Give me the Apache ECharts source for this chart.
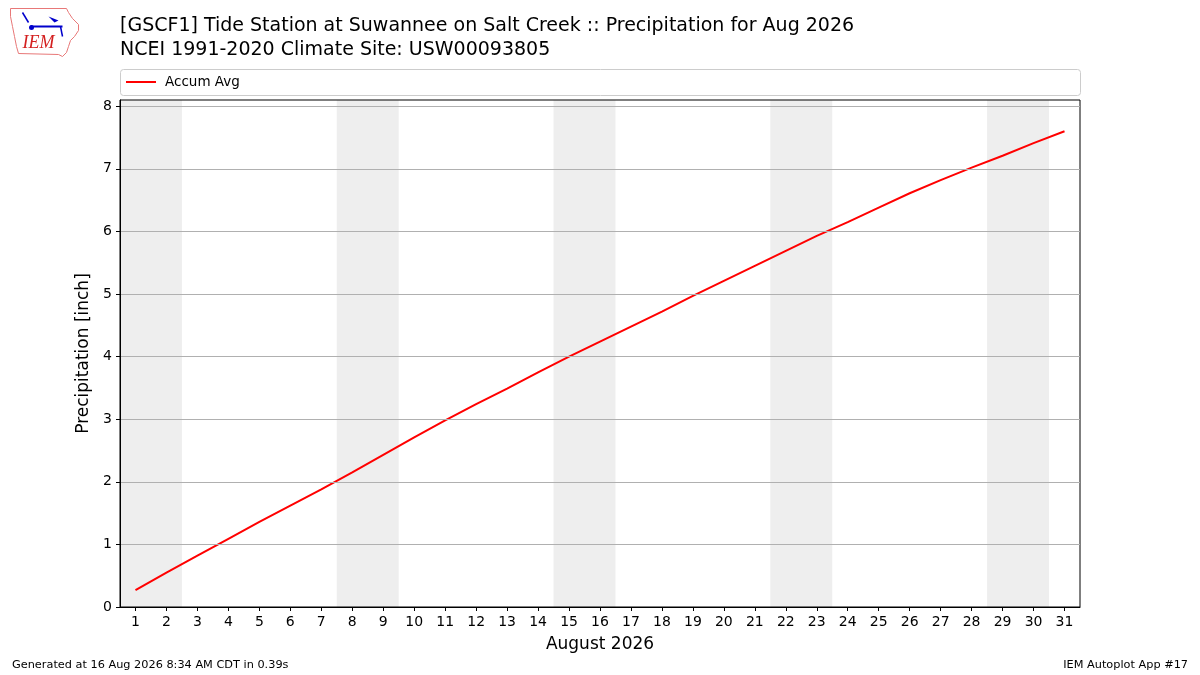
<!DOCTYPE html>
<html>
<head>
<meta charset="utf-8">
<script src="https://cdn.jsdelivr.net/npm/echarts@6/dist/echarts.min.js"></script>
<style>html,body{margin:0;padding:0;background:#fff}#c{width:1200px;height:675px}</style>
</head>
<body>
<div id="c"></div>
<script>
const days = [1,2,3,4,5,6,7,8,9,10,11,12,13,14,15,16,17,18,19,20,21,22,23,24,25,26,27,28,29,30,31];
const accumAvg = [0.27,0.55,0.82,1.09,1.36,1.62,1.88,2.15,2.43,2.71,2.98,3.24,3.49,3.75,4.00,4.24,4.48,4.72,4.97,5.21,5.45,5.69,5.93,6.15,6.38,6.61,6.82,7.02,7.21,7.41,7.60];
const weekends = [[1,2],[8,9],[15,16],[22,23],[29,30]];
const yTicks = [0,1,2,3,4,5,6,7,8];
const titleLine1 = '[GSCF1] Tide Station at Suwannee on Salt Creek :: Precipitation for Aug 2026';
const titleLine2 = 'NCEI 1991-2020 Climate Site: USW00093805';
const footerLeft = 'Generated at 16 Aug 2026 8:34 AM CDT in 0.39s';
const footerRight = 'IEM Autoplot App #17';

const F = 'DejaVu Sans';
const chart = echarts.init(document.getElementById('c'), null, {renderer:'canvas'});
chart.setOption({
  animation: false,
  backgroundColor: '#fff',
  textStyle: {fontFamily: F},
  title: [
    {text: titleLine1, left: 115, top: 12, textStyle: {fontFamily: F, fontSize: 19, fontWeight: 'normal', color: '#000'}},
    {text: titleLine2, left: 115, top: 36, textStyle: {fontFamily: F, fontSize: 19, fontWeight: 'normal', color: '#000'}}
  ],
  legend: {
    left: 121, top: 70, itemWidth: 30, itemHeight: 2, icon: 'rect',
    textStyle: {fontFamily: F, fontSize: 13.5, color: '#000', padding: [0,0,0,4]},
    data: ['Accum Avg']
  },
  grid: {left: 120, right: 120, top: 100, bottom: 68, show: true, z: 10, borderColor: '#000', borderWidth: 1, backgroundColor: 'transparent'},
  xAxis: {
    type: 'value', min: 0.5, max: 31.5, z: 10,
    name: 'August 2026', nameLocation: 'middle', nameGap: 29,
    nameTextStyle: {fontFamily: F, fontSize: 17, color: '#000'},
    axisLine: {show: true, onZero: false, lineStyle: {color: '#000'}},
    axisTick: {show: true, customValues: days, length: 4, lineStyle: {color: '#000'}},
    axisLabel: {customValues: days, fontFamily: F, fontSize: 14, color: '#000', margin: 8},
    splitLine: {show: false}
  },
  yAxis: {
    type: 'value', min: 0, max: 8.1, z: 10,
    name: 'Precipitation [inch]', nameLocation: 'middle', nameGap: 23, nameRotate: 90,
    nameTextStyle: {fontFamily: F, fontSize: 17, color: '#000'},
    axisLine: {show: true, lineStyle: {color: '#000'}},
    axisTick: {show: true, customValues: yTicks, length: 4, lineStyle: {color: '#000'}},
    axisLabel: {customValues: yTicks, fontFamily: F, fontSize: 14, color: '#000', margin: 8},
    splitLine: {show: true, lineStyle: {color: '#b0b0b0', width: 1}}
  },
  series: [{
    name: 'Accum Avg', type: 'line', showSymbol: false, symbol: 'none',
    data: days.map((d,i) => [d, accumAvg[i]]),
    lineStyle: {color: '#ff0000', width: 2},
    itemStyle: {color: '#ff0000'},
    markArea: {
      silent: true,
      itemStyle: {color: '#eeeeee'},
      data: weekends.map(w => [{xAxis: w[0]-0.5}, {xAxis: w[1]+0.5}])
    },
    z: 3
  }],
  graphic: [
    {type: 'rect', left: 120, top: 69, shape: {width: 960, height: 26, r: 3}, style: {fill: 'rgba(255,255,255,0.8)', stroke: '#cccccc', lineWidth: 1}, z: -1},
    {type: 'text', left: 12, top: 660, style: {text: footerLeft, font: '11.3px "DejaVu Sans"', fill: '#000'}},
    {type: 'text', right: 12, top: 660, style: {text: footerRight, font: '11.3px "DejaVu Sans"', fill: '#000'}},
    {type: 'group', left: 8, top: 6, children: [
      {type: 'polyline', shape: {points: [[2,2],[58,2],[60,6],[64,12],[70,18],[70,24],[66,30],[62,34],[60,40],[58,46],[54,50],[50,48],[10,47],[8,40],[6,30],[4,20],[2,10],[2,2]]}, style: {stroke: '#e87878', fill: 'none', lineWidth: 1}},
      {type: 'line', shape: {x1: 22, y1: 20, x2: 54, y2: 20}, style: {stroke: '#0000cc', lineWidth: 2}},
      {type: 'circle', shape: {cx: 23, cy: 21, r: 2.5}, style: {fill: '#0000cc'}},
      {type: 'line', shape: {x1: 14, y1: 6, x2: 20, y2: 16}, style: {stroke: '#0000cc', lineWidth: 1.5}},
      {type: 'polygon', shape: {points: [[40,10],[50,14],[46,16]]}, style: {fill: '#0000cc'}},
      {type: 'line', shape: {x1: 52, y1: 20, x2: 54, y2: 30}, style: {stroke: '#0000cc', lineWidth: 1.5}},
      {type: 'text', x: 14, y: 28, style: {text: 'IEM', font: 'italic 18px "Liberation Serif"', fill: '#d42020'}}
    ]}
  ]
});
</script>
</body>
</html>
